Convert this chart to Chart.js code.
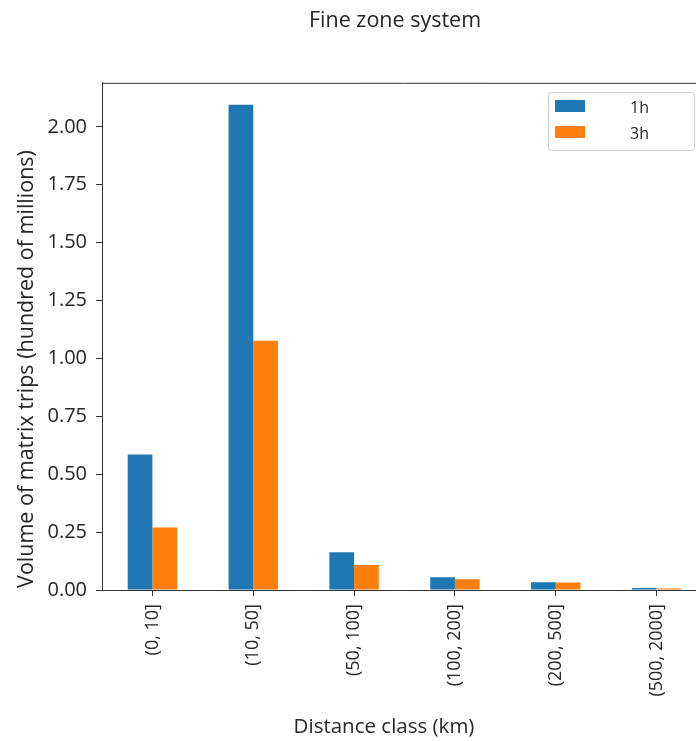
<!DOCTYPE html>
<html>
<head>
<meta charset="utf-8">
<script src="https://cdn.jsdelivr.net/npm/chart.js@4/dist/chart.umd.min.js"></script>
<style>
  html, body { margin: 0; padding: 0; overflow: hidden; background: #fff; }
  #wrap { width: 696px; height: 741px; overflow: hidden; }
</style>
</head>
<body>
<div id="wrap"><canvas id="chart" width="790" height="741"></canvas></div>
<script>
// values (hundred of millions of trips)
const categories = ['(0, 10]', '(10, 50]', '(50, 100]', '(100, 200]', '(200, 500]', '(500, 2000]'];
const trips1h = [0.585, 2.095, 0.163, 0.055, 0.033, 0.009];
const trips3h = [0.270, 1.076, 0.108, 0.046, 0.032, 0.007];
const yTicks = [0, 0.25, 0.5, 0.75, 1.0, 1.25, 1.5, 1.75, 2.0];
const xTitle = 'Distance class (km)';
const yTitle = 'Volume of matrix trips (hundred of millions)';

const ink = '#262626';
Chart.defaults.font.family = "'Open Sans', sans-serif";
Chart.defaults.color = ink;

//box round the axes, legend in the top right corner, axis titles
const boxPlugin = {
  id: 'box',
  afterDatasetsDraw(chart) {
    const c = chart.ctx, a = chart.chartArea;
    c.save();
    c.strokeStyle = '#333';
    c.lineWidth = 1;
    c.beginPath();
    c.moveTo(a.left, a.top + 0.5);
    c.lineTo(a.right, a.top + 0.5);
    c.lineTo(a.right, a.bottom);
    c.stroke();

    // legend
    const x = 548.5, y = 92.5, w = 146, h = 58;
    c.fillStyle = 'rgba(255,255,255,0.8)';
    c.strokeStyle = '#d0d0d0';
    c.beginPath();
    c.roundRect(x, y, w, h, 3);
    c.fill();
    c.stroke();
    c.font = "16px 'Open Sans', sans-serif";
    c.textBaseline = 'middle';
    c.textAlign = 'left';
    chart.data.datasets.forEach((ds, i) => {
      const yy = 100 + i * 26;
      c.fillStyle = ds.backgroundColor;
      c.fillRect(555, yy, 30, 12);
      c.fillStyle = ink;
      c.fillText(ds.label, 630, yy + 8);
    });

    // axis titles (they sit a bit off the axes centre in the picture)
    c.fillStyle = ink;
    c.textAlign = 'center';
    c.font = "20.5px 'Open Sans', sans-serif";
    c.fillText(xTitle, 384, 727);
    c.translate(27, 369);
    c.rotate(-Math.PI / 2);
    c.font = "21.5px 'Open Sans', sans-serif";
    c.fillText(yTitle, 0, 0);
    c.restore();
  }
};

const ctx = document.getElementById('chart').getContext('2d');
const myChart = new Chart(ctx, {
  type: 'bar',
  data: {
    labels: categories,
    datasets: [
      { label: '1h', data: trips1h, backgroundColor: '#1f77b4' },
      { label: '3h', data: trips3h, backgroundColor: '#ff7f0e' }
    ]
  },
  options: {
    responsive: false,
    animation: false,
    layout: { padding: 0 },
    datasets: { bar: { categoryPercentage: 0.49, barPercentage: 1.0 } },
    plugins: {
      legend: { display: false },
      tooltip: { enabled: false },
      title: {
        display: true,
        text: 'Fine zone system',
        font: { size: 21.5, weight: 'normal' },
        color: ink,
        padding: { top: 8, bottom: 49 }
      }
    },
    scales: {
      x: {
        grid: { display: true, offset: false, drawOnChartArea: false, drawTicks: true, tickLength: 6, color: '#333' },
        border: { display: true, color: '#333' },
        ticks: { minRotation: 90, maxRotation: 90, padding: 8, font: { size: 18 }, color: ink },
        afterFit(s) { s.height = 151; }
      },
      y: {
        min: 0,
        max: 2.19,
        grid: { display: true, drawOnChartArea: false, drawTicks: true, tickLength: 6, color: '#333' },
        border: { display: true, color: '#333' },
        afterBuildTicks(s) { s.ticks = yTicks.map(v => ({ value: v })); },
        ticks: { padding: 9, font: { size: 20 }, color: ink, callback: v => Number(v).toFixed(2) },
        afterFit(s) { s.width = 102; }
      },
      // empty space to the right of the axes (the picture is cut there)
      spacer: {
        type: 'linear',
        position: 'right',
        display: true,
        grid: { display: false },
        border: { display: false },
        ticks: { display: false },
        afterFit(s) { s.width = 83; }
      }
    }
  },
  plugins: [boxPlugin]
});
</script>
</body>
</html>
